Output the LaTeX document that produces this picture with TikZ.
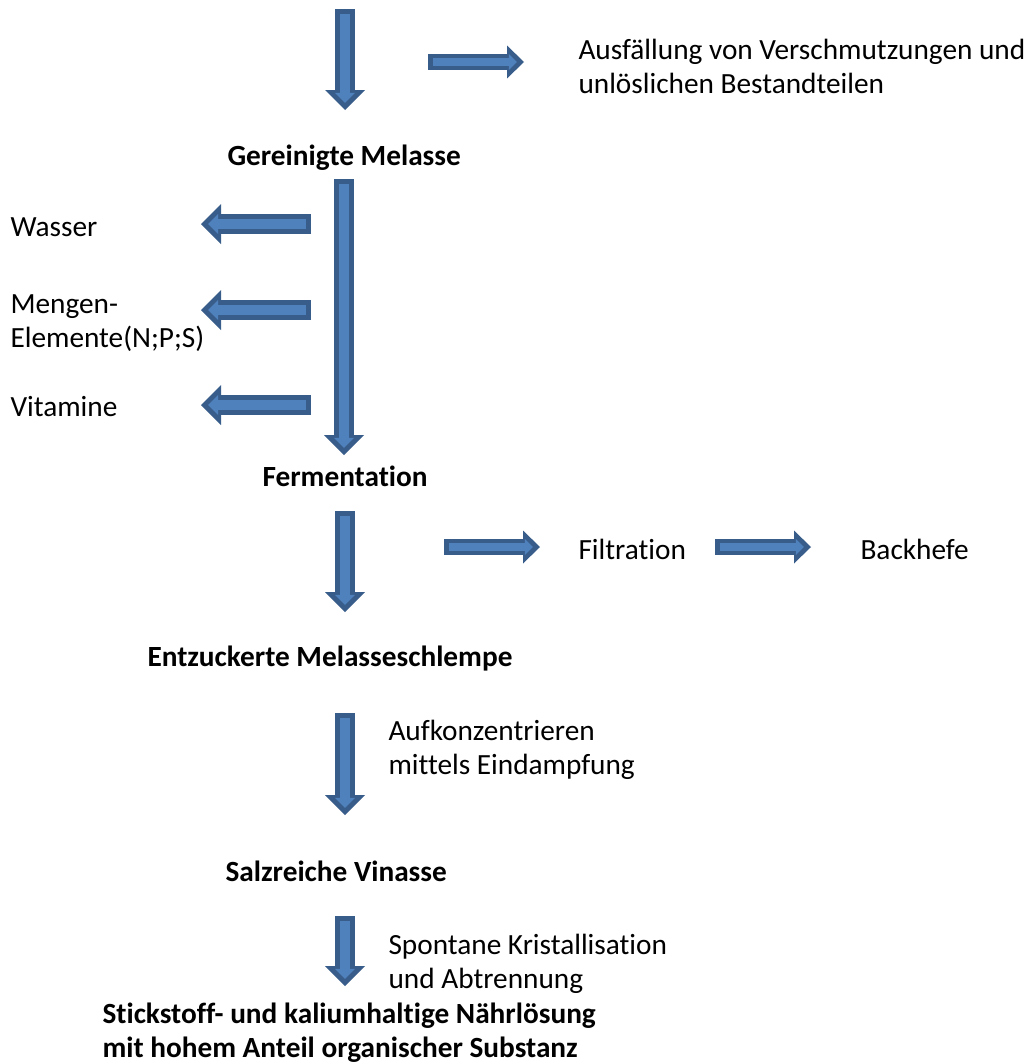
\documentclass[tikz,border=0pt]{standalone}
\usepackage{fontspec}
\setmainfont{Carlito}[Ligatures=NoCommon]
\usepackage{xcolor}
\usetikzlibrary{arrows.meta}
\definecolor{arrowline}{HTML}{385D8A}
\definecolor{arrowfill}{HTML}{4F81BD}
\tikzset{txt/.style={anchor=base west,inner sep=0pt,align=left,
                     font=\fontsize{11.25}{12.7}\selectfont}}
\tikzset{stage/.style={txt,font=\fontsize{11.25}{12.7}\selectfont\bfseries}}

\begin{document}
\begin{tikzpicture}[x=0.384pt,y=-0.384pt,
    % block arrows: dark outline, lighter core
    flow/.style ={draw=arrowline, line width=7.68pt,
                  -{Triangle[width=15.36pt,length=7.68pt,line width=0pt]},
                  postaction={draw=arrowfill, line width=3.84pt,
                    shorten <=1.92pt, shorten >=2.7pt,
                    -{Triangle[width=7.68pt,length=3.84pt,line width=0pt]}}},
    thinflow/.style ={draw=arrowline, line width=6.14pt,
                  -{Triangle[width=12.67pt,length=6.53pt,line width=0pt]},
                  postaction={draw=arrowfill, line width=2.7pt,
                    shorten <=1.92pt, shorten >=2.7pt,
                    -{Triangle[width=6.14pt,length=3.07pt,line width=0pt]}}}
  ]
    \useasboundingbox (0,0) rectangle (1032,1063);

    % texts (multi-line nodes sit on their last line)
    \node[txt](ausf) at (578,93) {Ausfällung von Verschmutzungen und\\unlöslichen Bestandteilen};
    \node[stage](gm) at (227,165) {Gereinigte Melasse};
    \node[txt](wasser) at (10,236) {Wasser};
    \node[txt](mengen) at (10,347) {Mengen-\\Elemente(N;P;S)};
    \node[txt](vit) at (10,416) {Vitamine};
    \node[stage](ferm) at (262,486) {Fermentation};
    \node[txt](filtr) at (578,559) {Filtration};
    \node[txt](hefe) at (860,559) {Backhefe};
    \node[stage](entz) at (147,666) {Entzuckerte Melasseschlempe};
    \node[txt](aufk) at (388,774) {Aufkonzentrieren\\mittels Eindampfung};
    \node[stage](salz) at (225,881) {Salzreiche Vinasse};
    \node[txt](spont) at (388,988) {Spontane Kristallisation\\und Abtrennung};
    \node[stage](stick) at (102,1057) {Stickstoff- und kaliumhaltige Nährlösung\\mit hohem Anteil organischer Substanz};

    % arrow ends
    \coordinate (a1s) at (345,9);    \coordinate (a1e) at (345,110);
    \coordinate (a2s) at (428,62);   \coordinate (a2e) at (524,62);
    \coordinate (a3s) at (344,179);  \coordinate (a3e) at (344,455);
    \coordinate (w1s) at (311,224);  \coordinate (w1e) at (201,224);
    \coordinate (w2s) at (311,310);  \coordinate (w2e) at (201,310);
    \coordinate (w3s) at (311,405);  \coordinate (w3e) at (201,405);
    \coordinate (a4s) at (345,511);  \coordinate (a4e) at (345,612);
    \coordinate (f1s) at (444,547);  \coordinate (f1e) at (540,547);
    \coordinate (f2s) at (715,547);  \coordinate (f2e) at (811,547);
    \coordinate (a5s) at (345,713);  \coordinate (a5e) at (345,815);
    \coordinate (a6s) at (345,916);  \coordinate (a6e) at (345,986);

    \draw[flow] (a1s) -- (a1e);
    \draw[thinflow] (a2s) -- (a2e);
    \draw[flow] (a3s) -- (a3e);
    \foreach \i in {1,2,3}
      \draw[flow] (w\i s) -- (w\i e);
    \draw[flow] (a4s) -- (a4e);
    \draw[thinflow] (f1s) -- (f1e);
    \draw[thinflow] (f2s) -- (f2e);
    \draw[flow] (a5s) -- (a5e);
    \draw[flow] (a6s) -- (a6e);
  \end{tikzpicture}
\end{document}
